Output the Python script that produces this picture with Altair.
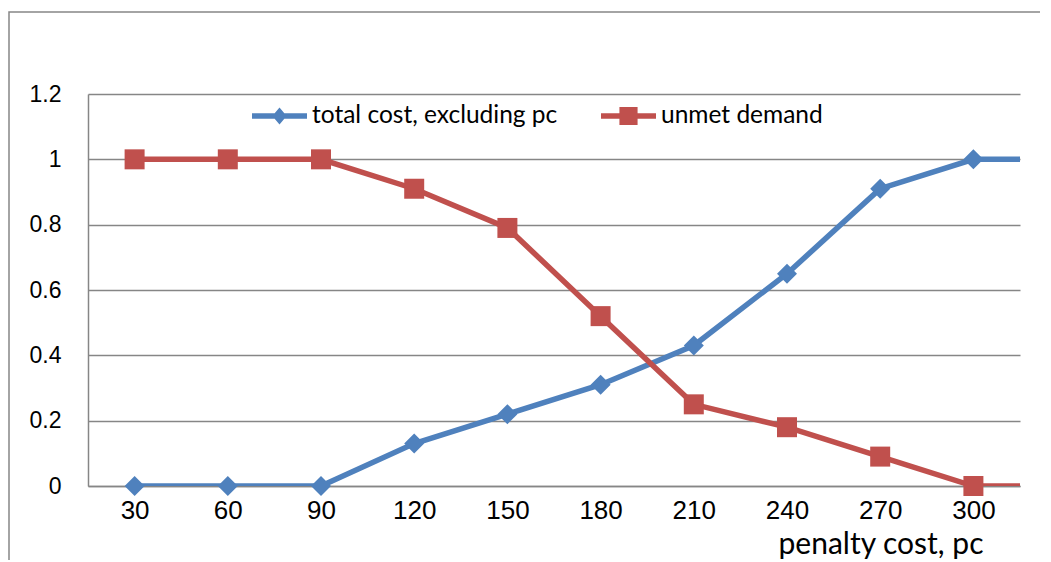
import altair as alt
import pandas as pd

# ---- data ----
penalty = [30, 60, 90, 120, 150, 180, 210, 240, 270, 300]
total_cost = [0.0, 0.0, 0.0, 0.13, 0.22, 0.31, 0.43, 0.65, 0.91, 1.0]
unmet_demand = [1.0, 1.0, 1.0, 0.91, 0.79, 0.52, 0.25, 0.18, 0.09, 0.0]
# the plotted lines continue past the last category to the plot edge
tail_x = 330

series_names = ["total cost, excluding pc", "unmet demand"]
series_colors = ["#4F81BD", "#C0504D"]
y_ticks = [0, 0.2, 0.4, 0.6, 0.8, 1.0, 1.2]

rows = []
for name, vals in zip(series_names, [total_cost, unmet_demand]):
    for x, v in zip(penalty, vals):
        rows.append({"pc": x, "value": v, "series": name})
pts = pd.DataFrame(rows)
tail = pd.DataFrame([{"pc": tail_x, "value": total_cost[-1], "series": series_names[0]},
                     {"pc": tail_x, "value": unmet_demand[-1], "series": series_names[1]}])
line_df = pd.concat([pts, tail], ignore_index=True)

GRID = "#868686"
x_enc = alt.X("pc:Q", scale=alt.Scale(domain=[15, 315], nice=False, zero=False),
              axis=alt.Axis(values=penalty, grid=False, ticks=False, domainColor=GRID,
                            domainWidth=1.5, labelFont="Liberation Sans", labelFontSize=26,
                            labelColor="black", labelPadding=11, labelFlush=False,
                            title="penalty cost, pc", titleFont="Lato", titleFontSize=30,
                            titleFontWeight="normal", titleColor="black",
                            titleX=895, titleY=67, titleAlign="right",
                            titleBaseline="alphabetic"))
y_enc = alt.Y("value:Q", scale=alt.Scale(domain=[0, 1.2], nice=False),
              axis=alt.Axis(values=y_ticks, format="~g", grid=True, gridColor=GRID,
                            gridWidth=1.5, ticks=False, domainColor=GRID, domainWidth=1.5,
                            labelFont="Liberation Sans", labelFontSize=23, labelColor="black",
                            labelPadding=27, title=None))

color_scale = alt.Scale(domain=series_names, range=series_colors)

lines = alt.Chart(line_df).mark_line(strokeWidth=5.5, clip=True).encode(
    x=x_enc, y=y_enc,
    color=alt.Color("series:N", scale=color_scale, legend=None),
    detail="series:N",
)

points = alt.Chart(pts).mark_point(filled=True, opacity=1, size=400).encode(
    x=x_enc, y=y_enc,
    color=alt.Color("series:N", scale=color_scale, legend=None),
    shape=alt.Shape("series:N", scale=alt.Scale(domain=series_names, range=["diamond", "square"]),
                    legend=None),
)

leg_paths = [
    "M-1,-0.1L1,-0.1L1,0.1L-1,0.1Z M0,-0.31L0.26,0L0,0.31L-0.26,0Z",
    "M-1,-0.1L1,-0.1L1,0.1L-1,0.1Z M-0.33,-0.33L0.33,-0.33L0.33,0.33L-0.33,0.33Z",
]
leg_props = dict(orient="none", legendX=164, legendY=-5.5, direction="horizontal",
                 title=None, labelFont="Lato", labelFontSize=24.5, labelColor="black",
                 labelLimit=400, labelOffset=5, columnPadding=43, symbolSize=3025,
                 symbolOpacity=1, symbolStrokeWidth=0)
legend_layer = alt.Chart(pts).mark_point(filled=True, opacity=0).encode(
    x=x_enc, y=y_enc,
    color=alt.Color("series:N", scale=color_scale, legend=alt.Legend(**leg_props)),
    shape=alt.Shape("series:N", scale=alt.Scale(domain=series_names, range=leg_paths),
                    legend=alt.Legend(**leg_props)),
)

frame = alt.Chart(alt.Data(values=[{}])).mark_rect(filled=False, stroke=GRID, strokeWidth=1.5).encode(
    x=alt.value(-79), x2=alt.value(3000), y=alt.value(-82), y2=alt.value(3000)
)

chart = alt.layer(frame, lines, points, legend_layer).resolve_scale(
    color="independent", shape="independent"
).properties(
    width=932, height=392,
    autosize=alt.AutoSizeParams(type="none"),
    padding={"left": 80, "top": 86, "right": 20, "bottom": 74},
).configure_view(stroke=None)

chart.save("out.html", embed_options={"renderer": "svg", "actions": False})
